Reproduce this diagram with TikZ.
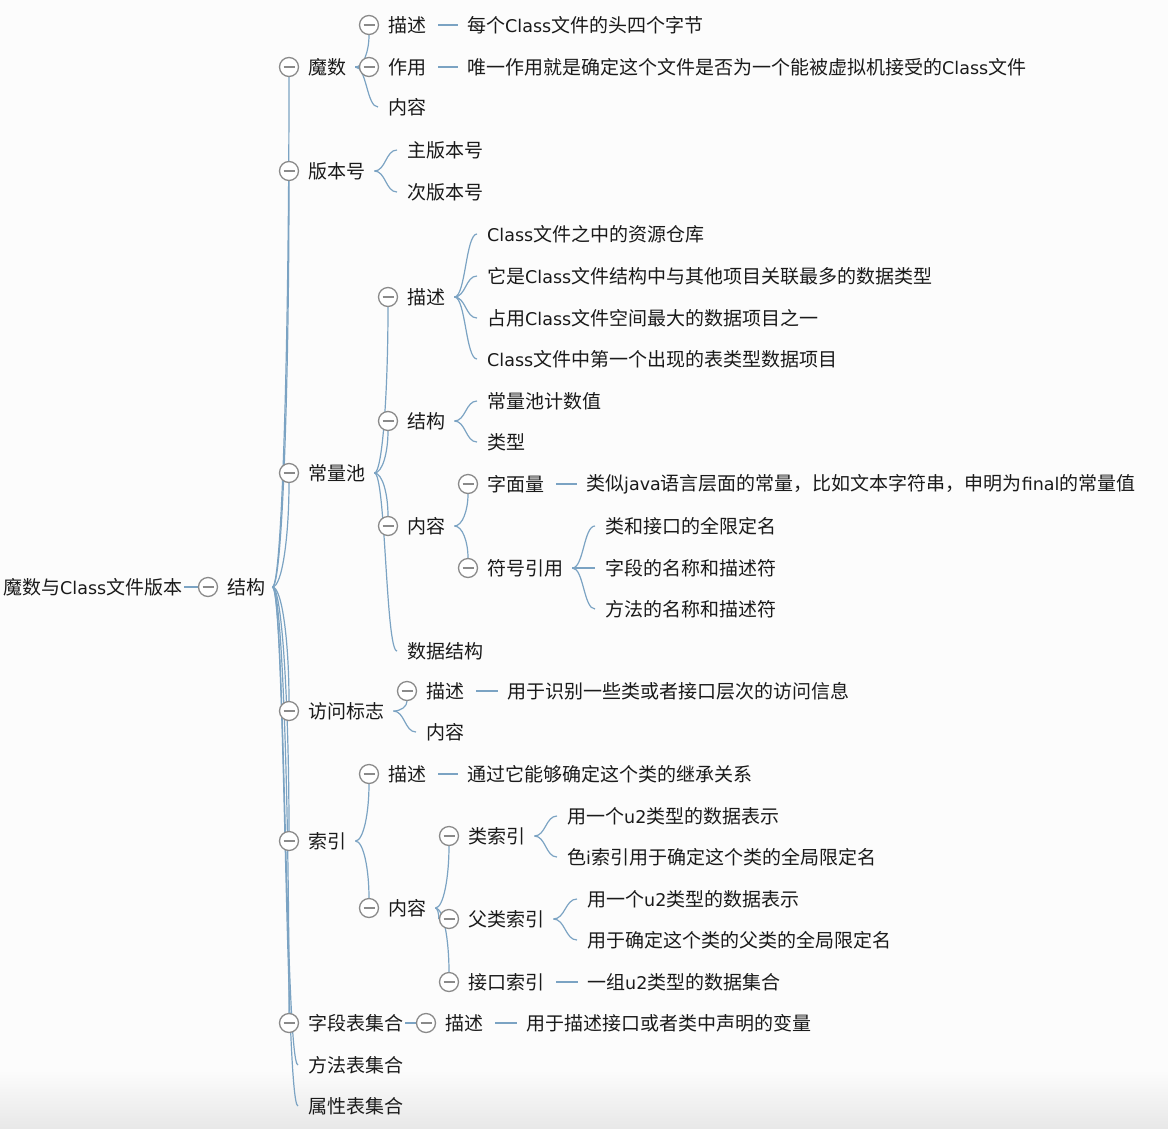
\documentclass[tikz,border=0pt]{standalone}
\usepackage{fontspec}
\setmainfont{Noto Sans CJK SC}
\newfontfamily\latfont{DejaVu Sans}
\newcommand\lt[1]{{\latfont\fontsize{17.5}{20}\selectfont #1}}
\usetikzlibrary{calc,backgrounds}
\definecolor{linec}{HTML}{7BA3C3}
\definecolor{circg}{HTML}{8A8A8A}
\definecolor{txtc}{HTML}{1A1A1A}
\definecolor{bgc}{HTML}{FCFCFC}
\pgfdeclarelayer{bottom}
\pgfsetlayers{bottom,background,main}
\tikzset{
  txt/.style={anchor=west,inner sep=0pt,text=txtc,font=\fontsize{19}{20}\selectfont},
  bubble/.style={circle,draw=circg,line width=1.3pt,fill=white,minimum size=19pt,inner sep=0pt,
    path picture={\draw[circg,line width=1.3pt] ([xshift=-5.5pt]path picture bounding box.center) -- ([xshift=5.5pt]path picture bounding box.center);}},
  conn/.style={draw=linec,line width=1.2pt}
}
\newcommand\bub[4]{%
  \node[bubble] (#1c) at (#2,#3) {};
  \node[txt] (#1) at (#2+19,#3) {#4};
  \coordinate (#1o) at ([xshift=9pt]#1.east);}
\newcommand\leaf[4]{%
  \node[txt] (#1) at (#2,#3) {#4};
  \coordinate (#1i) at ([xshift=-10pt]#1.west);}
\newcommand\tob[2]{\begin{pgfonlayer}{background}\draw[conn] (#1) .. controls ($(#1)!0.6!(#1 -| #2)$) and ($(#2)!0.5!(#2 |- #1)$) .. (#2);\end{pgfonlayer}}
\newcommand\tol[2]{\begin{pgfonlayer}{background}\draw[conn] (#1) .. controls ($(#1)!0.5!(#1 -| #2)$) and ($(#2)!0.5!(#2 -| #1)$) .. (#2);\end{pgfonlayer}}
\newcommand\tos[2]{\begin{pgfonlayer}{background}\draw[conn] ([xshift=12pt]#1.east) -- ([xshift=-9pt]#2.west);\end{pgfonlayer}}
\begin{document}
\begin{tikzpicture}[x=1pt,y=-1pt]
\begin{pgfonlayer}{bottom}
\fill[bgc] (0,0) rectangle (1168,1128);
\fill[top color=bgc,bottom color=black!9] (0,1070) rectangle (1168,1128);
\end{pgfonlayer}
\useasboundingbox (0,0) rectangle (1168,1128);

% root
\node[txt] (root) at (3,587) {魔数与\lt{Class}文件版本};
\bub{jg}{208}{587}{结构}
\begin{pgfonlayer}{background}\draw[conn] ([xshift=2pt]root.east) -- (jgc.west);\end{pgfonlayer}
\coordinate (jgo) at ([xshift=7pt]jg.east);

% level 1
\bub{mo}{289}{67}{魔数}
\bub{bb}{289}{171}{版本号}
\bub{cl}{289}{473}{常量池}
\bub{fw}{289}{711}{访问标志}
\bub{sy}{289}{841}{索引}
\bub{zd}{289}{1023}{字段表集合}
\leaf{ff}{308}{1065}{方法表集合}
\leaf{sx}{308}{1106}{属性表集合}
\tob{jgo}{moc.south}
\tob{jgo}{bbc.south}
\tob{jgo}{clc.south}
\tob{jgo}{fwc.north}
\tob{jgo}{syc.north}
\tob{jgo}{zdc.north}
\tol{jgo}{ffi}
\tol{jgo}{sxi}

% 魔数
\bub{ms}{369}{25}{描述}
\leaf{msd}{467}{25}{每个\lt{Class}文件的头四个字节}
\bub{mz}{369}{67}{作用}
\leaf{mzd}{467}{67}{唯一作用就是确定这个文件是否为一个能被虚拟机接受的\lt{Class}文件}
\leaf{mn}{388}{107}{内容}
\tob{moo}{msc.south}
\tob{moo}{mzc.west}
\tol{moo}{mni}
\tos{ms}{msd}
\tos{mz}{mzd}

% 版本号
\leaf{bz}{407}{150}{主版本号}
\leaf{bc}{407}{192}{次版本号}
\tol{bbo}{bzi}
\tol{bbo}{bci}

% 常量池
\bub{cm}{388}{297}{描述}
\leaf{cma}{487}{234}{\lt{Class}文件之中的资源仓库}
\leaf{cmb}{487}{276}{它是\lt{Class}文件结构中与其他项目关联最多的数据类型}
\leaf{cmx}{487}{318}{占用\lt{Class}文件空间最大的数据项目之一}
\leaf{cmd}{487}{359}{\lt{Class}文件中第一个出现的表类型数据项目}
\tol{cmo}{cmai}
\tol{cmo}{cmbi}
\tol{cmo}{cmxi}
\tol{cmo}{cmdi}
\bub{cj}{388}{421}{结构}
\leaf{cja}{487}{401}{常量池计数值}
\leaf{cjb}{487}{442}{类型}
\tol{cjo}{cjai}
\tol{cjo}{cjbi}
\bub{cn}{388}{526}{内容}
\bub{zm}{468}{484}{字面量}
\leaf{zmd}{586}{484}{类似\lt{java}语言层面的常量，比如文本字符串，申明为\lt{final}的常量值}
\tos{zm}{zmd}
\bub{fh}{468}{568}{符号引用}
\leaf{fha}{605}{526}{类和接口的全限定名}
\leaf{fhb}{605}{568}{字段的名称和描述符}
\leaf{fhx}{605}{609}{方法的名称和描述符}
\tol{fho}{fhai}
\tol{fho}{fhbi}
\tol{fho}{fhxi}
\tob{cno}{zmc.south}
\tob{cno}{fhc.north}
\leaf{cs}{407}{651}{数据结构}
\tob{clo}{cmc.south}
\tob{clo}{cjc.south}
\tob{clo}{cnc.north}
\tol{clo}{csi}

% 访问标志
\bub{fm}{407}{691}{描述}
\leaf{fmd}{507}{691}{用于识别一些类或者接口层次的访问信息}
\tos{fm}{fmd}
\leaf{fn}{426}{732}{内容}
\tob{fwo}{fmc.south}
\tol{fwo}{fni}

% 索引
\bub{ym}{369}{774}{描述}
\leaf{ymd}{467}{774}{通过它能够确定这个类的继承关系}
\tos{ym}{ymd}
\bub{yn}{369}{908}{内容}
\tob{syo}{ymc.south}
\tob{syo}{ync.north}
\bub{lsy}{449}{836}{类索引}
\leaf{lsya}{567}{816}{用一个\lt{u2}类型的数据表示}
\leaf{lsyb}{567}{857}{色\lt{i}索引用于确定这个类的全局限定名}
\tol{lsyo}{lsyai}
\tol{lsyo}{lsybi}
\bub{fsy}{449}{919}{父类索引}
\leaf{fsya}{587}{899}{用一个\lt{u2}类型的数据表示}
\leaf{fsyb}{587}{940}{用于确定这个类的父类的全局限定名}
\tol{fsyo}{fsyai}
\tol{fsyo}{fsybi}
\bub{jsy}{449}{982}{接口索引}
\leaf{jsyd}{587}{982}{一组\lt{u2}类型的数据集合}
\tos{jsy}{jsyd}
\tob{yno}{lsyc.south}
\tob{yno}{fsyc.west}
\tob{yno}{jsyc.north}

% 字段表集合
\bub{zdm}{426}{1023}{描述}
\begin{pgfonlayer}{background}\draw[conn] ([xshift=2pt]zd.east) -- (zdmc.west);\end{pgfonlayer}
\leaf{zdmd}{526}{1023}{用于描述接口或者类中声明的变量}
\tos{zdm}{zdmd}
\end{tikzpicture}
\end{document}
